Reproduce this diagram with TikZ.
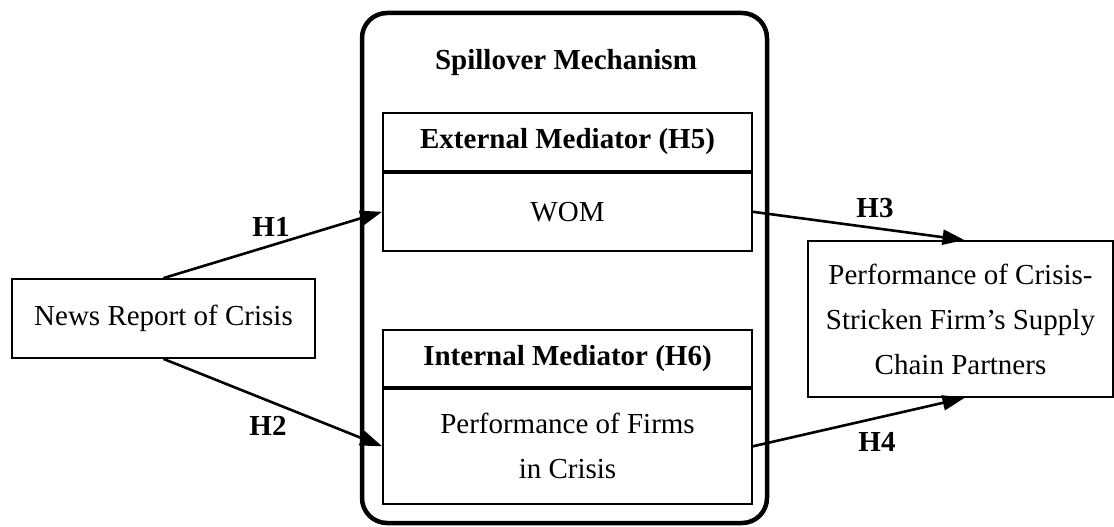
\documentclass[tikz,border=0pt]{standalone}
\usepackage{fontspec}
\setmainfont{Liberation Serif}
\usetikzlibrary{arrows.meta}
\begin{document}
\begin{tikzpicture}[x=1pt,y=-1pt,
  font=\fontsize{29}{45}\selectfont,
  outerbox/.style={draw, rounded corners=25pt, line width=4.5pt, inner sep=0pt},
  medbox/.style={draw, line width=1.8pt, inner sep=0pt, align=center, minimum width=369pt},
  plainbox/.style={draw, line width=1.8pt, inner sep=0pt, align=center},
  hlabel/.style={font=\fontsize{29}{45}\selectfont\bfseries, inner sep=0pt},
  conn/.style={line width=2.6pt, -{Triangle[length=22pt,width=15pt]}}
]
\useasboundingbox (0,0) rectangle (1114,527);
\node[outerbox, minimum width=405pt, minimum height=510pt] (outer) at (564.5,268) {};
\node[hlabel] (spill) at (566,63) {Spillover Mechanism};

\node[medbox, minimum height=58pt] (exttitle) at (567.5,142) {\bfseries External Mediator (H5)};
\node[medbox, minimum height=78pt, anchor=north] (wom) at (exttitle.south) {WOM};

\node[medbox, minimum height=57pt] (inttitle) at (567.5,358.5) {\bfseries Internal Mediator (H6)};
\node[medbox, minimum height=115pt, anchor=north] (firms) at (inttitle.south) {Performance of Firms\\in Crisis};

\node[plainbox, minimum width=303pt, minimum height=79pt] (news) at (163.5,318.5) {News Report of Crisis};
\node[plainbox, minimum width=305pt, minimum height=156pt] (perf) at (960.5,319) {Performance of Crisis-\\Stricken Firm’s Supply\\Chain Partners};

\draw[conn] (news.north) -- (wom.west);
\draw[conn] (news.south) -- (firms.west);
\draw[conn] (wom.east) -- ([xshift=4pt]perf.north);
\draw[conn] (firms.east) -- ([xshift=4pt]perf.south);

\node[hlabel] (h1) at (271,227) {H1};
\node[hlabel] (h2) at (268,426) {H2};
\node[hlabel] (h3) at (875,208) {H3};
\node[hlabel] (h4) at (877,442) {H4};
\end{tikzpicture}
\end{document}
